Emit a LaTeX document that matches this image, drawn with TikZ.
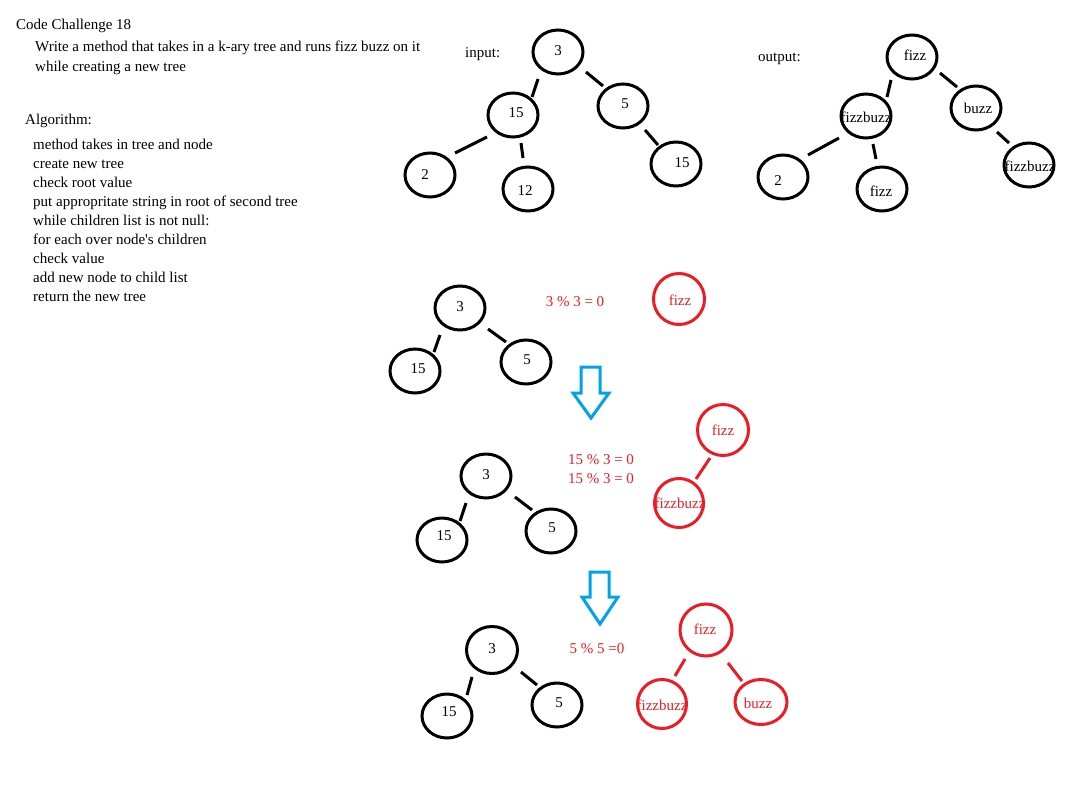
\documentclass[tikz,border=0pt]{standalone}
\usepackage{fontspec}
\setmainfont{Liberation Serif}
\usetikzlibrary{shapes.geometric,calc}
\definecolor{pred}{RGB}{237,28,36}
\definecolor{pblue}{RGB}{0,162,232}
\tikzset{
  bk/.style={ellipse,draw=black,line width=3pt,inner sep=0pt,minimum width=50,minimum height=44},
  rd/.style={ellipse,draw=pred,line width=3pt,inner sep=0pt,minimum width=51,minimum height=51},
  txt/.style={inner sep=0pt,font=\fontsize{15}{19}\selectfont},
  rtxt/.style={txt,text=pred},
  edgeline/.style={line width=3pt},
  redge/.style={edgeline,draw=pred},
  bluearrow/.style={draw=pblue,line width=3pt,line join=miter},
}
\begin{document}
\begin{tikzpicture}[x=1pt,y=-1pt]
\useasboundingbox (0,0) rectangle (1078,800);
\fill[white] (0,0) rectangle (1078,800);

% ---- texts on the left
\node[txt,anchor=base west] (title) at (16,30) {Code Challenge 18};
\node[txt,anchor=base west] (d1) at (35,52) {Write a method that takes in a k-ary tree and runs fizz buzz on it};
\node[txt,anchor=base west] (d2) at (35,71) {while creating a new tree};
\node[txt,anchor=base west] (alg) at (25,124) {Algorithm:};
\foreach \t [count=\i] in {method takes in tree and node,create new tree,check root value,put appropritate string in root of second tree,while children list is not null:,for each over node\textquotesingle s children,check value,add new node to child list,return the new tree}{
  \node[txt,anchor=base west] (a\i) at (33,{130+19*\i}) {\t};
}

% ---- input tree
\node[txt,anchor=base west] (inlbl) at (465,57) {input:};
\node[bk] (I3) at (558,52) {};
\node[bk] (I15) at (513,115) {};
\node[bk] (I5) at (623,106) {};
\node[bk] (I2) at (430,175) {};
\node[bk] (I12) at (528,189) {};
\node[bk] (I15b) at (676,164) {};
\node[txt] (tI3) at (558,51) {3};
\node[txt] (tI15) at (516,113) {15};
\node[txt] (tI5) at (625,104) {5};
\node[txt] (tI2) at (425,175) {2};
\node[txt] (tI12) at (525,191) {12};
\node[txt] (tI15b) at (682,163) {15};
\draw[edgeline] ($(I3)+(-20,27)$) -- ($(I15)+(19,-18)$);
\draw[edgeline] ($(I3)+(28,20)$) -- ($(I5)+(-20,-20)$);
\draw[edgeline] ($(I15)+(-26,22)$) -- ($(I2)+(25,-22)$);
\draw[edgeline] ($(I15)+(8,28)$) -- ($(I12)+(-5,-31)$);
\draw[edgeline] ($(I5)+(22,24)$) -- ($(I15b)+(-18,-19)$);

% ---- output tree
\node[txt,anchor=base west] (outlbl) at (758,62) {output:};
\node[bk] (O1) at (912,57) {};
\node[bk] (Ofb) at (866,116) {};
\node[bk] (Obz) at (976,108) {};
\node[bk] (O2) at (783,177) {};
\node[bk] (Ofz) at (882,189) {};
\node[bk] (Ofb2) at (1029,165) {};
\node[txt] (tO1) at (915,55) {fizz};
\node[txt] (tOfb) at (866,117) {fizzbuzz};
\node[txt] (tObz) at (978,108) {buzz};
\node[txt] (tO2) at (778,181) {2};
\node[txt] (tOfz) at (881,191) {fizz};
\node[txt] (tOfb2) at (1030,166) {fizzbuzz};
\draw[edgeline] ($(O1)+(-21,23)$) -- ($(Ofb)+(21,-19)$);
\draw[edgeline] ($(O1)+(28,16)$) -- ($(Obz)+(-19,-21)$);
\draw[edgeline] ($(Ofb)+(-27,22)$) -- ($(O2)+(25,-22)$);
\draw[edgeline] ($(Ofb)+(7,28)$) -- ($(Ofz)+(-6,-30)$);
\draw[edgeline] ($(Obz)+(21,24)$) -- ($(Ofb2)+(-20,-22)$);

% ---- step 1
\node[bk] (A3) at (460,308) {};
\node[bk] (A15) at (415,371) {};
\node[bk] (A5) at (526,362) {};
\node[txt] (tA3) at (460,307) {3};
\node[txt] (tA15) at (418,369) {15};
\node[txt] (tA5) at (527,360) {5};
\draw[edgeline] ($(A3)+(-20,27)$) -- ($(A15)+(19,-19)$);
\draw[edgeline] ($(A3)+(28,21)$) -- ($(A5)+(-20,-20)$);
\node[rtxt] (eq1) at (575,302) {3 \% 3 = 0};
\node[rd] (AR1) at (679,299) {};
\node[rtxt] (tAR1) at (680,300) {fizz};
\coordinate (arrow1) at (591,418);
\draw[bluearrow] ($(arrow1)+(-10,-51)$) -- ($(arrow1)+(9,-51)$) -- ($(arrow1)+(9,-25)$) -- ($(arrow1)+(18,-25)$)
  -- (arrow1) -- ($(arrow1)+(-18,-25)$) -- ($(arrow1)+(-10,-25)$) -- cycle;

% ---- step 2
\node[bk] (B3) at (486,476) {};
\node[bk] (B15) at (442,540) {};
\node[bk] (B5) at (551,531) {};
\node[txt] (tB3) at (486,475) {3};
\node[txt] (tB15) at (444,536) {15};
\node[txt] (tB5) at (552,528) {5};
\draw[edgeline] ($(B3)+(-20,27)$) -- ($(B15)+(18,-19)$);
\draw[edgeline] ($(B3)+(29,21)$) -- ($(B5)+(-19,-21)$);
\node[rtxt] (eq2a) at (601,460) {15 \% 3 = 0};
\node[rtxt] (eq2b) at (601,479) {15 \% 3 = 0};
\node[rd] (BR1) at (723,430) {};
\node[rd,minimum width=49,minimum height=49] (BR2) at (679,503) {};
\node[rtxt] (tBR1) at (723,430) {fizz};
\node[rtxt] (tBR2) at (680,503) {fizzbuzz};
\draw[redge] ($(BR1)+(-13,28)$) -- ($(BR2)+(17,-24)$);
\coordinate (arrow2) at (600,624);
\draw[bluearrow] ($(arrow2)+(-10,-52)$) -- ($(arrow2)+(9,-52)$) -- ($(arrow2)+(9,-27)$) -- ($(arrow2)+(18,-27)$)
  -- (arrow2) -- ($(arrow2)+(-18,-27)$) -- ($(arrow2)+(-10,-27)$) -- cycle;

% ---- step 3
\node[bk,minimum width=51,minimum height=47] (C3) at (492,650) {};
\node[bk] (C15) at (447,716) {};
\node[bk] (C5) at (557,705) {};
\node[txt] (tC3) at (492,649) {3};
\node[txt] (tC15) at (449,712) {15};
\node[txt] (tC5) at (559,703) {5};
\draw[edgeline] ($(C3)+(-20,27)$) -- ($(C15)+(20,-21)$);
\draw[edgeline] ($(C3)+(29,22)$) -- ($(C5)+(-20,-20)$);
\node[rtxt] (eq3) at (597,649) {5 \% 5 =0};
\node[rd,minimum width=52,minimum height=52] (CR1) at (706,630) {};
\node[rd,minimum width=49,minimum height=49] (CR2) at (662,704) {};
\node[rd,minimum width=52,minimum height=45] (CR3) at (761,702) {};
\node[rtxt] (tCR1) at (705,629) {fizz};
\node[rtxt] (tCR2) at (662,705) {fizzbuzz};
\node[rtxt] (tCR3) at (758,703) {buzz};
\draw[redge] ($(CR1)+(-21,29)$) -- ($(CR2)+(13,-28)$);
\draw[redge] ($(CR1)+(22,33)$) -- ($(CR3)+(-19,-21)$);
\end{tikzpicture}
\end{document}
